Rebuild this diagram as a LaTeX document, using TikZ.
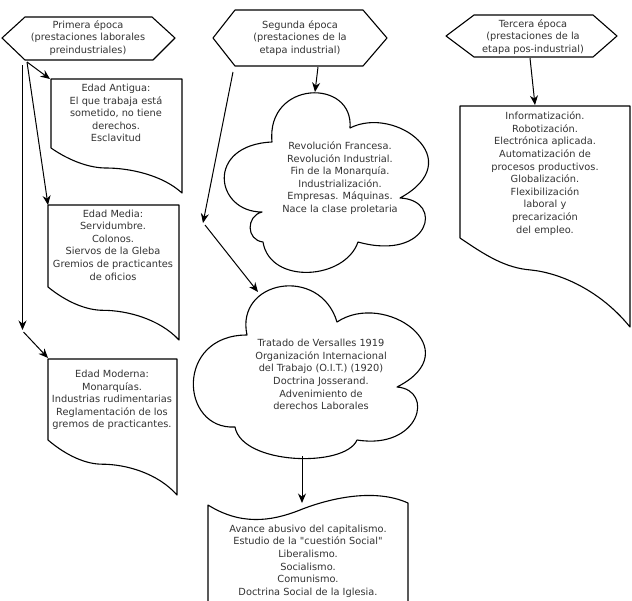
\documentclass[tikz,border=0pt]{standalone}
\usepackage{fontspec}
\setmainfont{DejaVu Sans}[Ligatures=TeXOff]
\usetikzlibrary{arrows.meta}
\begin{document}
\begin{tikzpicture}[x=1pt,y=-1pt,
  shapeline/.style={draw=black, line width=1.1pt, line join=round},
  conn/.style={draw=black, line width=1pt, -{Stealth[length=9.5pt,width=8pt]}},
  txt/.style={align=center, inner sep=0pt, text=black!80, font=\fontsize{9.8}{12.6}\selectfont}]
\useasboundingbox (0,0) rectangle (632,600);
\fill[white] (0,0) rectangle (632,600);

% ---------- hexagons ----------
\draw[shapeline] (2,38) -- (25,17) -- (152,17) -- (175,38) -- (153,60) -- (25,60) -- cycle;
\draw[shapeline] (213,38) -- (235,10) -- (363,10) -- (387,38) -- (363,66) -- (235,66) -- cycle;
\draw[shapeline] (446,36) -- (474,15) -- (593,15) -- (617,36) -- (593,57) -- (474,57) -- cycle;

% ---------- document boxes ----------
\draw[shapeline] (51,148) -- (51,79) -- (182,79) -- (182,193)
  .. controls (162.4,175) and (129.6,168) .. (106,168)
  .. controls (90.3,168) and (70.6,161.5) .. cycle;
\draw[shapeline] (48,287) -- (48,205) -- (179,205) -- (179,340)
  .. controls (159.4,318.8) and (126.6,310.3) .. (103,310.3)
  .. controls (87.3,310.3) and (67.6,302.9) .. cycle;
\draw[shapeline] (48,440) -- (48,359) -- (177,359) -- (177,495)
  .. controls (157.7,473) and (125.4,464.2) .. (102.2,464.2)
  .. controls (86.7,464.2) and (67.4,456.5) .. cycle;
\draw[shapeline] (460,238) -- (460,106) -- (630,106) -- (630,327)
  .. controls (600,290) and (560,273) .. (531,270)
  .. controls (505,268) and (485,255) .. cycle;

% ---------- bottom tape box ----------
\draw[shapeline] (208,606) -- (208,505)
  .. controls (240,525) and (270,522) .. (300,510)
  .. controls (330,498) and (375,488) .. (408,503) -- (408,606);

% ---------- clouds ----------
\draw[shapeline] (262,212)
  .. controls (215,212) and (205,145) .. (272,142)
  .. controls (266,80) and (354,78) .. (350,128)
  .. controls (395,105) and (470,160) .. (400,198)
  .. controls (445,200) and (430,262) .. (358,242)
  .. controls (345,280) and (270,285) .. (263,242)
  .. controls (246,240) and (246,216) .. cycle;
\draw[shapeline] (247,335)
  .. controls (235,280) and (320,265) .. (337,322)
  .. controls (385,290) and (470,350) .. (397,387)
  .. controls (435,390) and (420,450) .. (357,440)
  .. controls (345,468) and (242,465) .. (235,427)
  .. controls (180,430) and (175,335) .. cycle;

% ---------- texts ----------
\node[txt] (t1) at (88,38) {Primera época\\(prestaciones laborales\\preindustriales)};
\node[txt] (t2) at (300,38) {Segunda época\\(prestaciones de la\\etapa industrial)};
\node[txt] (t3) at (533,37) {Tercera época\\(prestaciones de la\\etapa pos-industrial)};
\node[txt] (antigua) at (116,113) {Edad Antigua:\\El que trabaja está\\sometido, no tiene\\derechos.\\Esclavitud};
\node[txt] (media) at (113,245) {Edad Media:\\Servidumbre.\\Colonos.\\Siervos de la Gleba\\Gremios de practicantes\\de oficios};
\node[txt] (moderna) at (112,400) {Edad Moderna:\\Monarquías.\\Industrias rudimentarias\\Reglamentación de los\\gremos de practicantes.};
\node[txt] (tercera) at (545,173.5) {Informatización.\\Robotización.\\Electrónica aplicada.\\Automatización de\\procesos productivos.\\Globalización.\\Flexibilización\\laboral y\\precarización\\del empleo.};
\node[txt] (rev) at (340,178) {Revolución Francesa.\\Revolución Industrial.\\Fin de la Monarquía.\\Industrialización.\\Empresas. Máquinas.\\Nace la clase proletaria};
\node[txt] (vers) at (321,374.5) {Tratado de Versalles 1919\\Organización Internacional\\del Trabajo (O.I.T.) (1920)\\Doctrina Josserand.\\Advenimiento de\\derechos Laborales};
\node[txt] (avance) at (308,561) {Avance abusivo del capitalismo.\\Estudio de la "cuestión Social"\\Liberalismo.\\Socialismo.\\Comunismo.\\Doctrina Social de la Iglesia.};

% ---------- connector end points ----------
\coordinate (h1a) at (27,62);
\coordinate (h1b) at (22.5,65);
\coordinate (antiguaIn) at (50,79);
\coordinate (mediaIn) at (48,205);
\coordinate (bendA) at (22.5,330);
\coordinate (bendAo) at (23.5,332);
\coordinate (modernaIn) at (48,358);
\coordinate (h2a) at (233,72);
\coordinate (h2b) at (318,67);
\coordinate (bendB) at (203,223);
\coordinate (bendBo) at (205,225);
\coordinate (c1In) at (315,92);
\coordinate (c2In) at (258,292);
\coordinate (h3a) at (530,58);
\coordinate (terceraIn) at (535,105);
\coordinate (c2Out) at (302,456);
\coordinate (avanceIn) at (302,503);

% ---------- connectors ----------
\draw[conn] (h1a) -- (antiguaIn);
\draw[conn] (h1a) -- (mediaIn);
\draw[conn] (h1b) -- (bendA);
\draw[conn] (bendAo) -- (modernaIn);
\draw[conn] (h2a) -- (bendB);
\draw[conn] (bendBo) -- (c2In);
\draw[conn] (h2b) -- (c1In);
\draw[conn] (h3a) -- (terceraIn);
\draw[conn] (c2Out) -- (avanceIn);
\end{tikzpicture}
\end{document}
